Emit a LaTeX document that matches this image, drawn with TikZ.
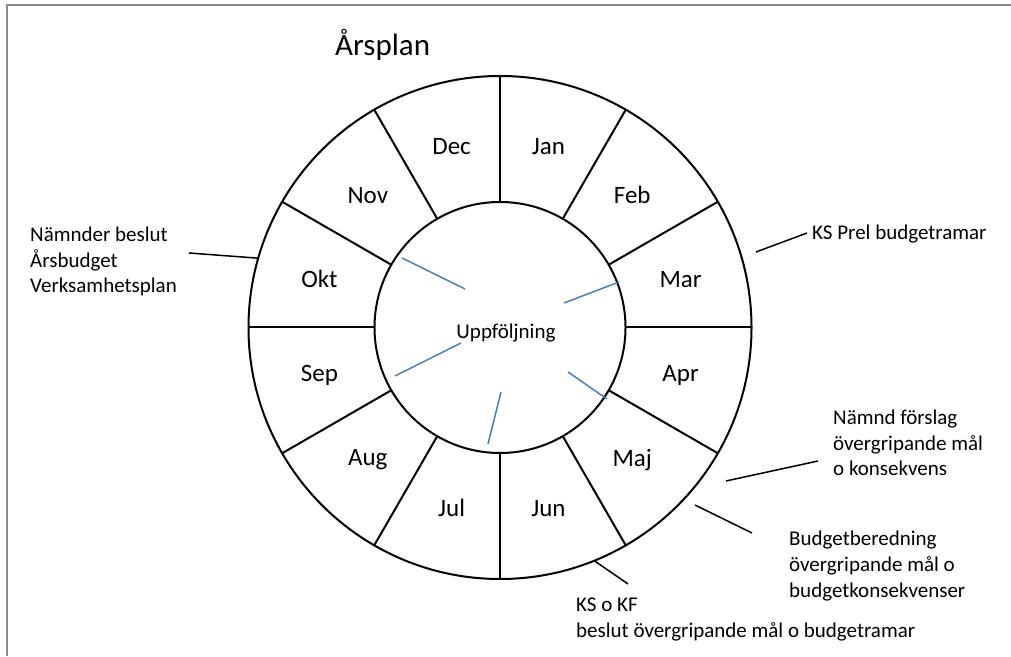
\documentclass[tikz,border=0pt]{standalone}
\usepackage{fontspec}
\setmainfont{Carlito}
\definecolor{uppblue}{HTML}{4A7EBB}
\definecolor{framegray}{HTML}{8C8C8C}
\begin{document}
\begin{tikzpicture}[x=1pt,y=1pt,
  ring/.style={circle, draw, line width=2pt, inner sep=0pt, outer sep=0pt},
  wheel/.style={line width=2pt},
  month/.style={font=\fontsize{25}{30}\selectfont, inner sep=0pt},
  centre/.style={font=\fontsize{21}{25.7}\selectfont, inner sep=0pt},
  label/.style={font=\fontsize{21}{25.7}\selectfont, align=left, inner sep=0pt, anchor=base west},
  pointer/.style={line width=1.5pt},
  follow/.style={line width=1.5pt, uppblue},
  frame/.style={line width=1.8pt, framegray}]
\useasboundingbox (0,0) rectangle (1011,656);
\draw[frame] (7,0) -- (7,651) -- (1011,651);
\node[font=\fontsize{31}{36}\selectfont, anchor=base west, inner sep=0pt] (title) at (335,600) {Årsplan};
\coordinate (C) at (500,328.5);
\node[ring, minimum size=503pt] (outer) at (C) {};
\node[ring, minimum size=251pt] (inner) at (C) {};
\foreach \a in {0,30,...,330} \draw[wheel] (inner.\a) -- (outer.\a);
\foreach \m/\a in {Jan/75, Feb/45, Mar/15, Apr/-15, Maj/-45, Jun/-75, Jul/-105, Aug/-135, Sep/-165, Okt/165, Nov/135, Dec/105}
  \node[month] (m\m) at ([shift={(\a:187)}]C) {\m};
\node[centre] (upp) at (506,323) {Uppföljning};
% blue follow-up strokes
\draw[follow] (402,398) -- (465,367);
\draw[follow] (564,353) -- (619,374);
\draw[follow] (395,280) -- (461,313);
\draw[follow] (568,284) -- (607,257);
\draw[follow] (501,264) -- (488,212);
% annotations (base anchor = baseline of last line)
\node[label] (namnder) at (30,363) {Nämnder beslut\\Årsbudget\\Verksamhetsplan};
\node[label] (ksprel) at (812,416) {KS Prel budgetramar};
\node[label] (forslag) at (833,180) {Nämnd förslag\\övergripande mål\\o konsekvens};
\node[label] (bered) at (789,59) {Budgetberedning\\övergripande mål o\\budgetkonsekvenser};
\node[label] (kskf) at (576,19) {KS o KF\\beslut övergripande mål o budgetramar};
\coordinate (pN) at (189,403);
\coordinate (pK1) at (756,404);
\coordinate (pK2) at (807,423);
\coordinate (pF1) at (726,175);
\coordinate (pF2) at (818,195);
\coordinate (pB1) at (695,151);
\coordinate (pB2) at (752,123);
\coordinate (pS2) at (628,72);
\draw[pointer] (pN) -- (outer.164.6);
\draw[pointer] (pK1) -- (pK2);
\draw[pointer] (pF1) -- (pF2);
\draw[pointer] (pB1) -- (pB2);
\draw[pointer] (outer.-68.5) -- (pS2);
\end{tikzpicture}
\end{document}
